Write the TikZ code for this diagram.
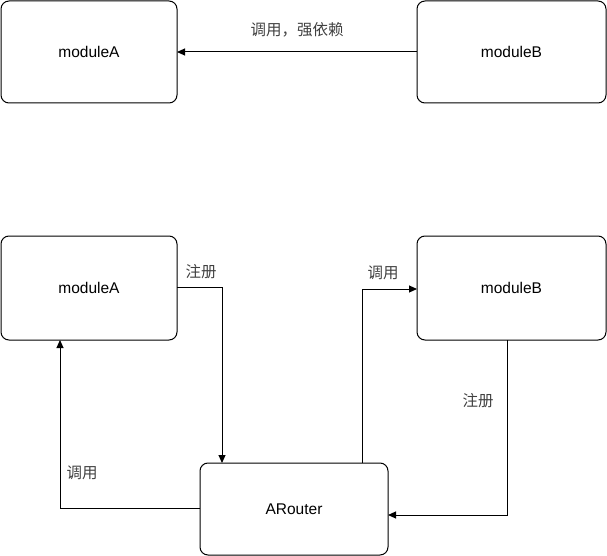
\documentclass[tikz,border=0pt]{standalone}
\usepackage{fontspec}
\setmainfont{Liberation Sans}
\newfontfamily\cjk{Noto Sans CJK SC}
\usetikzlibrary{arrows.meta}
\begin{document}
\begin{tikzpicture}[x=1pt,y=-1pt,
  box/.style={draw=black,line width=1pt,rounded corners=8pt,fill=white},
  conn/.style={draw=black,line width=1pt,-{Triangle[length=8pt,width=7pt]}},
  lbl/.style={font=\cjk\fontsize{15.5}{17}\selectfont,text=black!75},
  modtxt/.style={font=\fontsize{15.5}{17}\selectfont}]
\useasboundingbox (0,0) rectangle (607,556);
% top row
\draw[box] (1,1) rectangle (177,103);
\node[modtxt] (tA) at (89,52) {moduleA};
\coordinate (tAe) at (177,52);
\draw[box] (417,1) rectangle (606,103);
\node[modtxt] (tB) at (511.5,52) {moduleB};
\coordinate (tBw) at (417,52);
\draw[conn] (tBw) -- (tAe);
\node[lbl] (l1) at (297,30) {调用，强依赖};
% bottom row
\draw[box] (1,236) rectangle (177,340);
\node[modtxt] (bA) at (89,288) {moduleA};
\draw[box] (417,236) rectangle (606,340);
\node[modtxt] (bB) at (511.5,288) {moduleB};
\draw[box] (200,463) rectangle (388,555);
\node[modtxt] (ar) at (294,509) {ARouter};
% anchor coordinates
\coordinate (aE) at (177,287);
\coordinate (aS) at (60,340);
\coordinate (bW) at (417,289);
\coordinate (bS) at (507,340);
\coordinate (rN1) at (222,463);
\coordinate (rN2) at (362,463);
\coordinate (rE) at (388,515);
\coordinate (rW) at (200,508);
% connectors
\draw[conn] (aE) -| (rN1);
\node[lbl] (l2) at (201,272) {注册};
\draw[conn] (rN2) |- (bW);
\node[lbl] (l3) at (383,273) {调用};
\draw[conn] (bS) |- (rE);
\node[lbl] (l4) at (478,401) {注册};
\draw[conn] (rW) -| (aS);
\node[lbl] (l5) at (82,473) {调用};
\end{tikzpicture}
\end{document}
